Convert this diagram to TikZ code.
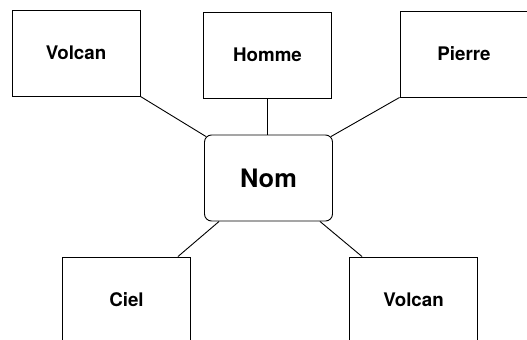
\documentclass[tikz,border=0pt]{standalone}
\usepackage{fontspec}
\setsansfont{TeX Gyre Heros}
\usetikzlibrary{positioning}

\begin{document}
\begin{tikzpicture}[x=1bp,y=-1bp,line width=0.9bp,
			word/.style={draw,rectangle,minimum width=128bp,minimum height=86bp,
				font=\sffamily\bfseries\fontsize{18.8}{20}\selectfont},
			centre/.style={word,rounded corners=7bp,font=\sffamily\bfseries\fontsize{25.5}{28}\selectfont}]
			\useasboundingbox (0,0) rectangle (527,339);
			\node[centre] (nom) at (268.5,178) {Nom};
			\node[word] (volcan_1) at (76,53) {Volcan};
			\node[word] (homme) at (267.5,55) {Homme};
			\node[word] (pierre) at (464,54) {Pierre};
			\node[word] (ciel) at (126.5,300) {Ciel};
			\node[word] (volcan_2) at (413.5,300) {Volcan};
			\draw (volcan_1.south east) -- ([shift={(2bp,-2bp)}]nom.north west);
			\draw (homme.south) -- (homme.south |- nom.north);
			\draw (pierre.south west) -- ([shift={(-2bp,-2bp)}]nom.north east);
			\draw ([xshift=15bp]nom.south west) -- ([xshift=-13bp]ciel.north east);
			\draw ([xshift=-13bp]nom.south east) -- ([xshift=13bp]volcan_2.north west);
		\end{tikzpicture}
\end{document}
